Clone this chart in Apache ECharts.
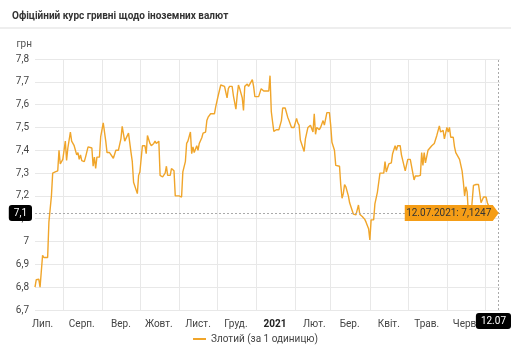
<!DOCTYPE html>
<html><head><meta charset="utf-8">
<script src="https://cdn.jsdelivr.net/npm/echarts@6/dist/echarts.min.js"></script>
<style>html,body{margin:0;padding:0;background:#fff}#c{width:511px;height:350px}</style>
</head><body><div id="c"></div>
<script>
const titleText = 'Офіційний курс гривні щодо іноземних валют';
const seriesName = 'Злотий (за 1 одиницю)';
const yUnit = 'грн';
const axisStart = '2020-07-10';
const axisEnd = '2021-07-13';
const monthLabels = ['2021','Лют.','Бер.','Квіт.','Трав.','Черв.','Лип.','Серп.','Вер.','Жовт.','Лист.','Груд.'];
const yTicks = [6.7, 7.8, 0.1];
const lastDate = '2021-07-12';
const lastValue = 7.1247;

const dates = [
'2020-07-10','2020-07-11','2020-07-13','2020-07-14','2020-07-16','2020-07-17','2020-07-20','2020-07-21','2020-07-23','2020-07-24','2020-07-26','2020-07-28','2020-07-29','2020-07-30',
'2020-08-01','2020-08-02','2020-08-03','2020-08-04','2020-08-05','2020-08-07','2020-08-08','2020-08-09','2020-08-10','2020-08-12','2020-08-13','2020-08-14','2020-08-15','2020-08-16','2020-08-18','2020-08-19','2020-08-21','2020-08-22','2020-08-24','2020-08-25','2020-08-26','2020-08-27','2020-08-28','2020-08-30','2020-08-31',
'2020-09-02','2020-09-04','2020-09-05','2020-09-07','2020-09-08','2020-09-10','2020-09-12','2020-09-14','2020-09-16','2020-09-17','2020-09-19','2020-09-20','2020-09-22','2020-09-24','2020-09-25','2020-09-26','2020-09-27','2020-09-29','2020-09-30',
'2020-10-01','2020-10-03','2020-10-05','2020-10-06','2020-10-07','2020-10-09','2020-10-10','2020-10-12','2020-10-13','2020-10-14','2020-10-16','2020-10-17','2020-10-19','2020-10-21','2020-10-22','2020-10-23','2020-10-25','2020-10-26','2020-10-28','2020-10-29',
'2020-11-01','2020-11-03','2020-11-04','2020-11-06','2020-11-07','2020-11-08','2020-11-09','2020-11-10','2020-11-11','2020-11-12','2020-11-13','2020-11-15','2020-11-16','2020-11-17','2020-11-19','2020-11-20','2020-11-22','2020-11-23','2020-11-24','2020-11-26','2020-11-29','2020-11-30',
'2020-12-02','2020-12-04','2020-12-05','2020-12-07','2020-12-09','2020-12-10','2020-12-11','2020-12-13','2020-12-14','2020-12-16','2020-12-17','2020-12-18','2020-12-19','2020-12-21','2020-12-22','2020-12-23','2020-12-25','2020-12-26','2020-12-27','2020-12-29','2020-12-30','2020-12-31',
'2021-01-03','2021-01-05','2021-01-07','2021-01-09','2021-01-11','2021-01-12','2021-01-13','2021-01-14','2021-01-15','2021-01-17','2021-01-18','2021-01-19','2021-01-21','2021-01-22','2021-01-24','2021-01-26','2021-01-27','2021-01-29','2021-01-31',
'2021-02-02','2021-02-03','2021-02-04','2021-02-05','2021-02-06','2021-02-08','2021-02-09','2021-02-11','2021-02-13','2021-02-15','2021-02-16','2021-02-17','2021-02-18','2021-02-20','2021-02-21','2021-02-23','2021-02-24','2021-02-25','2021-02-26','2021-02-28',
'2021-03-01','2021-03-02','2021-03-04','2021-03-05','2021-03-08','2021-03-09','2021-03-10','2021-03-11','2021-03-12','2021-03-13','2021-03-15','2021-03-16','2021-03-17','2021-03-19','2021-03-20','2021-03-21','2021-03-23','2021-03-24','2021-03-25','2021-03-26','2021-03-28','2021-03-29','2021-03-31',
'2021-04-01','2021-04-02','2021-04-04','2021-04-05','2021-04-06','2021-04-07','2021-04-09','2021-04-12','2021-04-13','2021-04-14','2021-04-16','2021-04-18','2021-04-19','2021-04-21','2021-04-22','2021-04-23','2021-04-25','2021-04-26','2021-04-27','2021-04-29',
'2021-05-01','2021-05-03','2021-05-04','2021-05-06','2021-05-07','2021-05-09','2021-05-10','2021-05-11','2021-05-12','2021-05-13','2021-05-14','2021-05-15','2021-05-17','2021-05-18','2021-05-20','2021-05-22','2021-05-23','2021-05-24','2021-05-26','2021-05-27','2021-05-29','2021-05-30',
'2021-06-01','2021-06-02','2021-06-03','2021-06-04','2021-06-06','2021-06-07','2021-06-08','2021-06-09','2021-06-11','2021-06-12','2021-06-13','2021-06-14','2021-06-15','2021-06-16','2021-06-17','2021-06-18','2021-06-20','2021-06-22','2021-06-24','2021-06-26','2021-06-27','2021-06-28','2021-06-30',
'2021-07-02','2021-07-03','2021-07-04','2021-07-06','2021-07-08','2021-07-12'
];
const values = [
6.80,6.833,6.835,6.80,6.94,6.93,6.93,7.085,7.20,7.30,7.305,7.31,7.40,7.34,
7.36,7.36,7.44,7.355,7.41,7.48,7.44,7.44,7.42,7.38,7.39,7.36,7.38,7.355,7.35,7.37,7.415,7.41,7.41,7.33,7.37,7.32,7.37,7.37,7.46,
7.52,7.44,7.39,7.39,7.385,7.365,7.40,7.40,7.45,7.505,7.44,7.44,7.475,7.39,7.35,7.26,7.26,7.21,7.29,
7.305,7.42,7.42,7.385,7.465,7.43,7.42,7.43,7.44,7.43,7.44,7.29,7.283,7.30,7.33,7.29,7.29,7.32,7.31,7.20,
7.20,7.195,7.305,7.35,7.43,7.44,7.435,7.48,7.385,7.415,7.39,7.42,7.40,7.43,7.455,7.475,7.48,7.53,7.545,7.56,7.56,7.59,
7.64,7.686,7.686,7.68,7.63,7.67,7.68,7.68,7.64,7.58,7.64,7.686,7.67,7.63,7.575,7.68,7.69,7.68,7.69,7.71,7.68,7.635,
7.635,7.67,7.66,7.66,7.66,7.727,7.57,7.525,7.483,7.49,7.49,7.49,7.53,7.585,7.585,7.545,7.53,7.50,7.50,
7.54,7.52,7.51,7.445,7.44,7.395,7.45,7.50,7.51,7.48,7.56,7.47,7.50,7.49,7.50,7.53,7.51,7.51,7.565,7.565,
7.51,7.435,7.40,7.334,7.33,7.246,7.19,7.21,7.25,7.24,7.20,7.17,7.165,7.12,7.12,7.117,7.16,7.12,7.12,7.11,7.097,7.085,7.056,
7.007,7.095,7.095,7.165,7.17,7.217,7.30,7.30,7.35,7.305,7.34,7.345,7.385,7.42,7.40,7.42,7.42,7.38,7.38,7.31,
7.36,7.36,7.36,7.27,7.287,7.287,7.29,7.29,7.39,7.334,7.39,7.345,7.40,7.405,7.42,7.43,7.43,7.465,7.507,7.48,7.487,7.45,
7.50,7.48,7.50,7.457,7.457,7.415,7.39,7.39,7.36,7.36,7.31,7.26,7.20,7.24,7.217,7.12,7.11,7.246,7.25,7.25,7.25,7.17,7.195,
7.195,7.17,7.165,7.13,7.12,7.1247
];

// calendar categories for the x axis
const categories = [];
(function(){
  const d = new Date(axisStart + 'T00:00:00Z');
  const end = new Date(axisEnd + 'T00:00:00Z');
  while (d <= end) { categories.push(d.toISOString().slice(0,10)); d.setUTCDate(d.getUTCDate()+1); }
})();

const fmtNum = v => String(+(+v).toFixed(1)).replace('.', ',');
const lineColor = '#F0A52A';
const FONT = 'Roboto';

const chart = echarts.init(document.getElementById('c'));
chart.setOption({
  animation: false,
  textStyle: { fontFamily: FONT },
  title: { text: titleText, left: 7, top: 6, textStyle: { fontFamily: FONT, fontSize: 10, fontWeight: 'bold', color: '#333' } },
  graphic: [{ type: 'rect', left: 0, top: 27, shape: { width: 511, height: 2 }, style: { fill: '#eeeeee' }, silent: true }],
  legend: {
    bottom: 1, left: 'center', icon: 'rect', itemWidth: 13, itemHeight: 2, itemGap: 6,
    textStyle: { fontFamily: FONT, fontSize: 10, color: '#444' },
    data: [seriesName]
  },
  grid: { left: 35, right: 11, top: 59, bottom: 40 },
  xAxis: {
    type: 'category', data: categories, boundaryGap: false,
    axisLine: { show: false }, axisTick: { show: false },
    axisLabel: {
      interval: (i, v) => v.slice(8) === '16',
      margin: 9, fontSize: 10, color: '#444', fontFamily: FONT,
      formatter: v => { const m = +v.slice(5,7); return m === 1 ? '{b|' + monthLabels[0] + '}' : monthLabels[m-1]; },
      rich: { b: { fontWeight: 'bold', fontSize: 10, color: '#222', fontFamily: FONT } }
    },
    splitLine: { show: true, interval: (i, v) => v.slice(8) === '01', lineStyle: { color: '#e8e8e8', width: 1 } },
    axisPointer: {
      show: true, status: 'show', value: lastDate, type: 'line', triggerTooltip: false,
      lineStyle: { color: '#aaa', type: [2, 2], width: 1 },
      label: { show: true, backgroundColor: '#000', color: '#fff', fontSize: 10, fontFamily: FONT, padding: [3, 5], formatter: () => lastDate.slice(8) + '.' + lastDate.slice(5,7) }
    }
  },
  yAxis: {
    type: 'value', min: yTicks[0], max: yTicks[1], interval: yTicks[2],
    name: yUnit, nameLocation: 'end', nameGap: 10,
    nameTextStyle: { align: 'right', fontSize: 10, color: '#555', fontFamily: FONT, padding: [0, 3, 0, 0] },
    axisLine: { show: false }, axisTick: { show: false },
    axisLabel: { fontSize: 10, color: '#444', margin: 6, fontFamily: FONT, formatter: fmtNum },
    splitLine: { lineStyle: { color: '#e8e8e8', width: 1 } },
    axisPointer: {
      show: true, status: 'show', value: lastValue, type: 'line', triggerTooltip: false,
      lineStyle: { color: '#aaa', type: [2, 2], width: 1 },
      label: { show: true, backgroundColor: '#000', color: '#fff', fontSize: 10, fontFamily: FONT, padding: [3, 5], formatter: p => fmtNum(p.value) }
    }
  },
  series: [{
    name: seriesName, type: 'line', showSymbol: false, symbol: 'none',
    lineStyle: { color: lineColor, width: 1.4 }, itemStyle: { color: lineColor },
    data: dates.map((d, i) => [d, values[i]])
  }, {
    name: 'last', type: 'scatter', zlevel: 1, z: 10, silent: true,
    symbol: 'path://M0,0 L88,0 L94,8 L88,16 L0,16 Z', symbolKeepAspect: false,
    symbolSize: [94, 16], symbolOffset: [-47, 0],
    itemStyle: { color: '#F59D16', opacity: 1 },
    label: { show: true, position: 'inside', offset: [-3, 0], color: '#333', fontSize: 10, fontFamily: FONT,
      formatter: () => lastDate.slice(8) + '.' + lastDate.slice(5,7) + '.' + lastDate.slice(0,4) + ': ' + String(lastValue).replace('.', ',') },
    data: [[lastDate, lastValue]]
  }]
});
</script></body></html>
